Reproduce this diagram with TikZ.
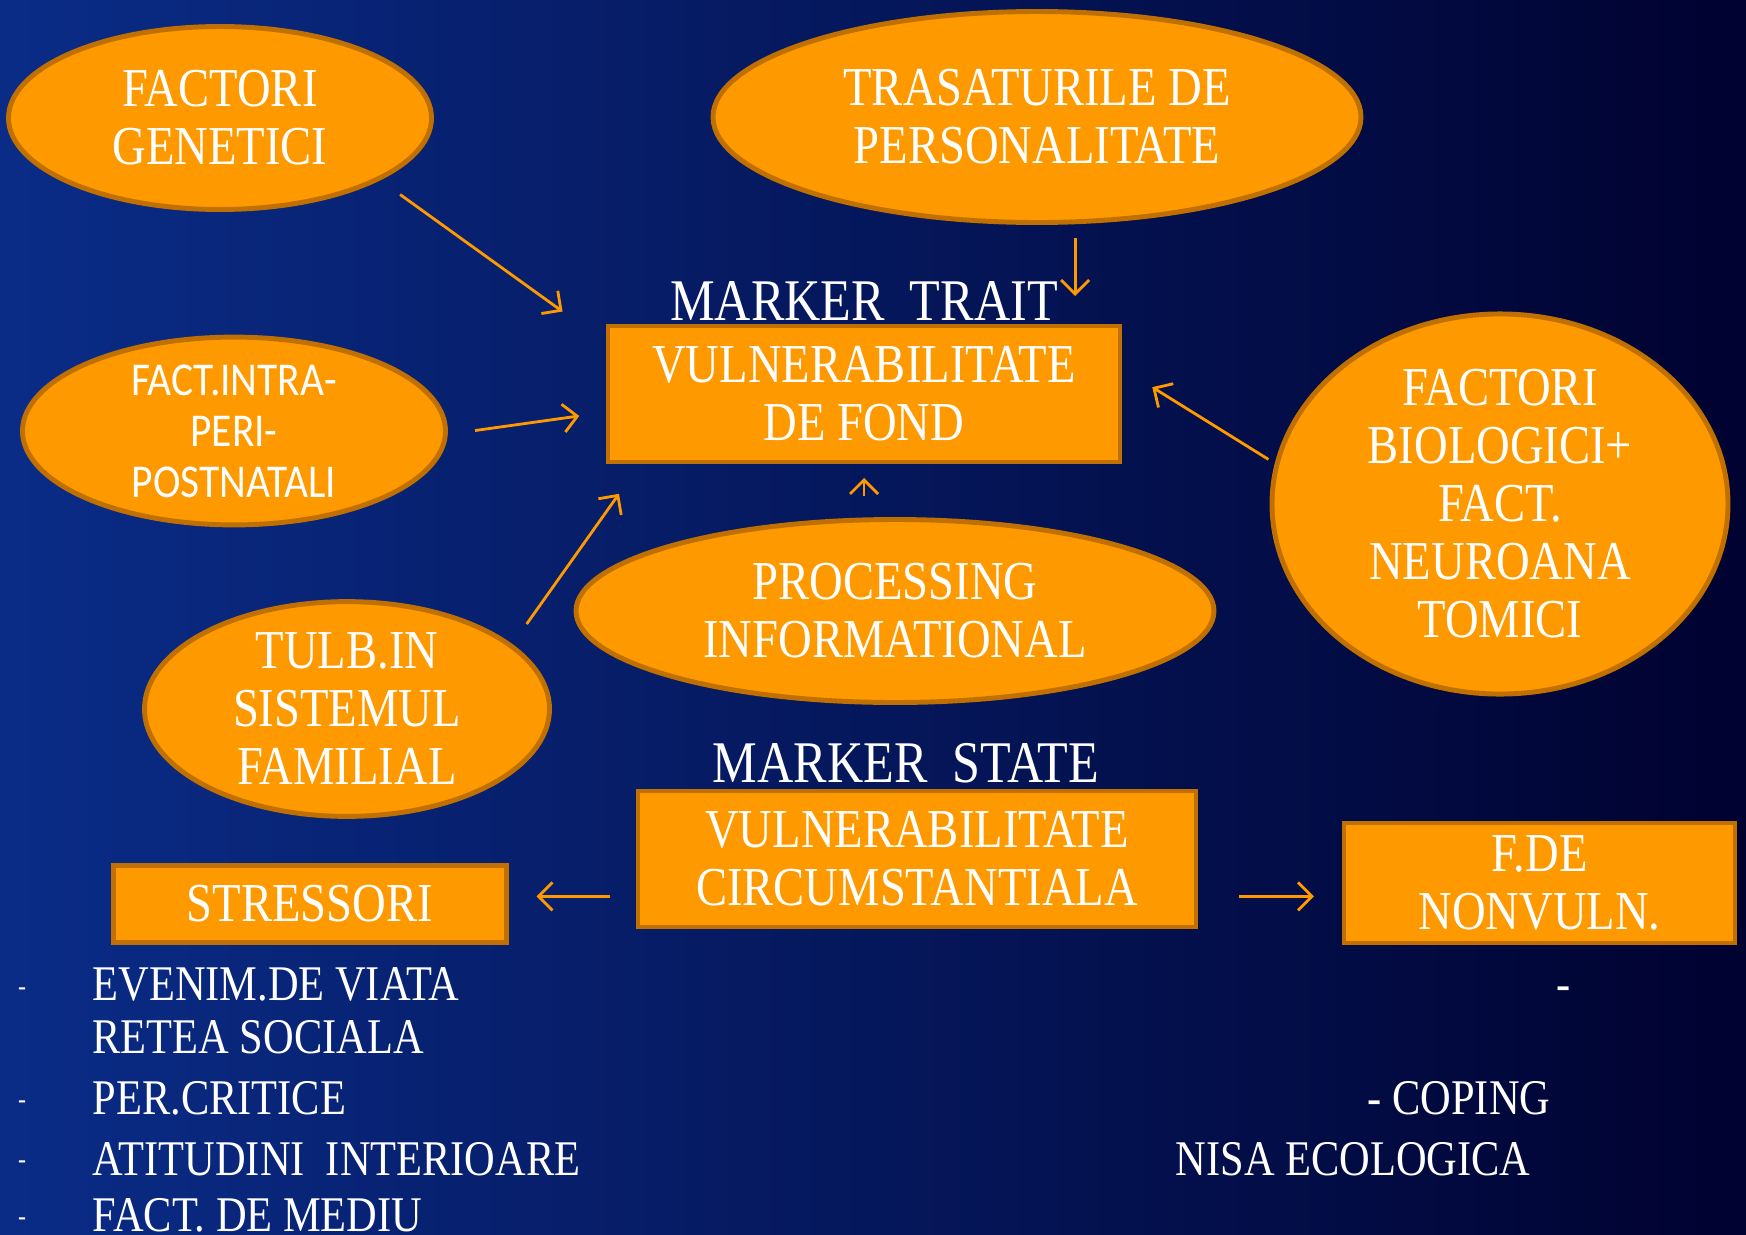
\documentclass[tikz,border=0pt]{standalone}
\usepackage{fontspec}
\setmainfont[FakeStretch=0.85]{Liberation Serif}
\newfontfamily\calibrifont[FakeStretch=0.88]{Carlito}
\usepackage{tikz}
\usetikzlibrary{shapes.geometric, arrows.meta, positioning, calc}
\definecolor{bgleft}{RGB}{10,44,135}
\definecolor{bgright}{RGB}{0,2,48}
\definecolor{orangefill}{RGB}{255,153,0}
\definecolor{orangeedge}{RGB}{192,112,0}
\tikzset{
    oval_orange/.style={ellipse, draw=orangeedge, line width=1.4pt, fill=orangefill, text=white, align=center, inner sep=0pt, outer sep=0pt, font=\fontsize{15.6}{16.5}\selectfont},
    block_orange/.style={rectangle, draw=orangeedge, line width=1.4pt, fill=orangefill, text=white, align=center, inner sep=0pt, outer sep=0pt, font=\fontsize{15.6}{16.5}\selectfont},
    marker_text/.style={text=white, inner sep=0pt, font=\fontsize{16.8}{18}\selectfont},
    list_text/.style={text=white, inner sep=0pt, anchor=west, font=\fontsize{14.2}{15}\selectfont},
    list_dash/.style={text=white, inner sep=0pt, font=\fontsize{8}{8}\selectfont},
    arrow/.style={-{Straight Barb[length=0.14cm, width=0.28cm]}, line width=0.8pt, draw=orangefill}
}

\begin{document}
\begin{tikzpicture}
    \clip (0,0) rectangle (17.46,12.34);
    \shade[left color=bgleft, right color=bgright] (0,0) rectangle (17.46,12.34);

    % factors around the background vulnerability
    \node (gen) [oval_orange, minimum width=4.23cm, minimum height=1.83cm] at (2.20,11.16) {FACTORI\\GENETICI};
    \node (trasat) [oval_orange, minimum width=6.48cm, minimum height=2.11cm] at (10.37,11.17) {TRASATURILE DE\\PERSONALITATE};
    \node (intra) [oval_orange, minimum width=4.23cm, minimum height=1.81cm, font=\calibrifont\fontsize{13.4}{14.5}\selectfont] at (2.34,8.03) {FACT.INTRA-\\PERI-\\POSTNATALI};
    \node (bio) [oval_orange, minimum width=4.56cm, minimum height=3.61cm] at (15.00,7.30) {FACTORI\\BIOLOGICI+\\FACT.\\NEUROANA\\TOMICI};
    \node (proc) [oval_orange, minimum width=6.38cm, minimum height=1.83cm] at (8.95,6.23) {PROCESSING\\INFORMATIONAL};
    \node (tulb) [oval_orange, minimum width=4.05cm, minimum height=1.96cm] at (3.47,5.25) {TULB.IN\\SISTEMUL\\FAMILIAL};

    \node (vf) [block_orange, minimum width=5.12cm, minimum height=1.36cm] at (8.64,8.40) {VULNERABILITATE\\DE FOND};
    \node (trait) [marker_text, above=0.05cm of vf] {MARKER~ TRAIT};

    % circumstantial vulnerability
    \node (vc) [block_orange, minimum width=5.58cm, minimum height=1.36cm] at (9.17,3.75) {VULNERABILITATE\\CIRCUMSTANTIALA};
    \node (state) [marker_text, above=0.07cm of vc, xshift=-0.11cm] {MARKER~ STATE};
    \node (stress) [block_orange, minimum width=3.93cm, minimum height=0.77cm] at (3.10,3.30) {STRESSORI};
    \node (nonv) [block_orange, minimum width=3.91cm, minimum height=1.20cm] at (15.395,3.51) {F.DE\\NONVULN.};

    \draw [arrow, shorten <=0.27cm, shorten >=0.56cm] (gen.-21) -- (vf.169);
    \draw [arrow, shorten <=0.16cm, shorten >=0.30cm] (trasat.-70) -- (trasat.-70 |- vf.north);
    \draw [arrow, shorten <=0.30cm, shorten >=0.29cm] (intra.-1) -- (vf.184);
    \draw [arrow, shorten <=0.10cm, shorten >=0.38cm] (bio.170) -- (vf.6);
    \draw [arrow, shorten <=0.24cm, shorten >=0.16cm] (vf.south |- proc.north) -- (vf.south);
    \draw [arrow, shorten <=0.27cm, shorten >=0.39cm] (tulb.21.6) -- (vf.197.5);

    \coordinate (vcl) at ($(vc.west)!0.55!(vc.south west)$);
    \coordinate (vcr) at ($(vc.east)!0.55!(vc.south east)$);
    \draw [arrow, shorten <=0.28cm, shorten >=0.30cm] (vcl) -- (vcl -| stress.east);
    \draw [arrow, shorten <=0.43cm, shorten >=0.30cm] (vcr) -- (vcr -| nonv.west);

    % stressors list
    \node (s1) [list_text] at (0.92,2.50) {EVENIM.DE VIATA};
    \node (s2) [list_text] at (0.92,1.97) {RETEA SOCIALA};
    \node (s3) [list_text] at (0.92,1.36) {PER.CRITICE};
    \node (s4) [list_text] at (0.92,0.75) {ATITUDINI~ INTERIOARE};
    \node (s5) [list_text] at (0.92,0.19) {FACT. DE MEDIU};
    \node (d1) [list_dash] at (0.22,2.42) {-};
    \node (d3) [list_dash] at (0.22,1.29) {-};
    \node (d4) [list_dash] at (0.22,0.69) {-};
    \node (d5) [list_dash] at (0.22,0.12) {-};

    % non-vulnerability list
    \node (n0) [list_text, anchor=center] at (15.64,2.40) {-};
    \node (n1) [list_text] at (13.67,1.36) {- COPING};
    \node (n2) [list_text] at (11.75,0.75) {NISA ECOLOGICA};
\end{tikzpicture}
\end{document}
